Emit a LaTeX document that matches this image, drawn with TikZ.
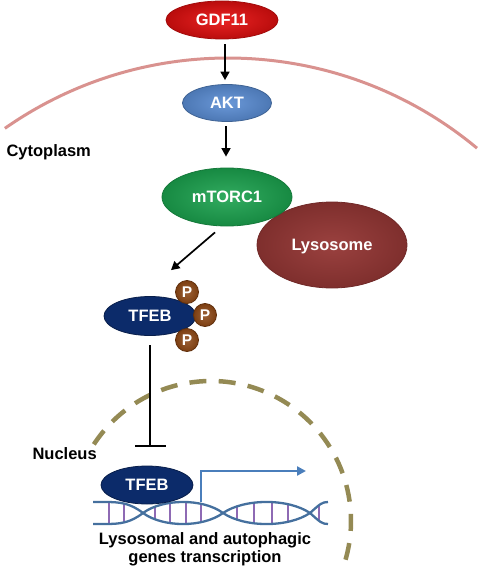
\documentclass[tikz,border=0pt]{standalone}
\usepackage{fontspec}
\setmainfont{Liberation Sans}
\usetikzlibrary{shapes.geometric,arrows.meta,calc}
\definecolor{gdfred}{HTML}{E81010}
\definecolor{aktblue}{HTML}{5A8DD4}
\definecolor{mtgreen}{HTML}{1BA24E}
\definecolor{lysred}{HTML}{953735}
\definecolor{tfebblue}{HTML}{0C2B6A}
\definecolor{pbrown}{HTML}{8A4513}
\definecolor{membrane}{HTML}{D9928F}
\definecolor{nucdash}{HTML}{948A54}
\definecolor{dnablue}{HTML}{45709E}
\definecolor{rung}{HTML}{8E6AB4}
\definecolor{txblue}{HTML}{4A7EBB}
\begin{document}
\begin{tikzpicture}[x=1pt,y=-1pt,
  lbl/.style={font=\fontsize{16.5}{18}\selectfont\bfseries},
  blob/.style={ellipse, inner sep=0pt, text=white, text depth=0pt,
    font=\fontsize{16.5}{18}\selectfont\bfseries, line width=0.8pt},
  phos/.style={circle, inner sep=0pt, minimum size=23pt, text=white,
    shade, inner color=pbrown!85!white, outer color=pbrown!90!black,
    draw=pbrown!70!black, line width=0.8pt, text depth=0pt,
    font=\fontsize{15.5}{16}\selectfont\bfseries},
  arr/.style={line width=1.7pt, -{Triangle[length=8.5pt,width=9pt]}},
  inhib/.style={line width=1.7pt, -{Bar[width=31pt]}},
  txarr/.style={draw=txblue, line width=2.4pt, -{Triangle[length=9pt,width=9pt]}},
  strand/.style={draw=dnablue, line width=2.3pt},
  rungline/.style={draw=rung, line width=2.2pt}]
\useasboundingbox (0,0) rectangle (480,586);

% cell membrane
\coordinate (mc) at (228,447);
\draw[membrane, line width=3pt] (mc) ++(-125:389) arc[start angle=-125, end angle=-50.2, radius=389];

% nuclear envelope
\coordinate (nc) at (211,521);
\draw[nucdash, line width=4.5pt, dash pattern=on 17pt off 12.3pt] (nc) ++(-146.8:140) arc[start angle=-146.8, end angle=17.4, radius=140];

% labels
\node[lbl, anchor=base west] (cyto) at (3,156) {Cytoplasm};
\node[lbl, anchor=base west] (nuc) at (29,459) {Nucleus};
\node[lbl, align=center, anchor=base] (genes) at (205,562.5) {Lysosomal and autophagic\\genes transcription};

% nodes
\node[blob, minimum width=112pt, minimum height=38pt, shade, inner color=gdfred!92!white, outer color=gdfred!80!black, draw=gdfred!70!black] (gdf) at (222,20) {GDF11};
\node[blob, minimum width=89pt, minimum height=37pt, shade, inner color=aktblue!90!white, outer color=aktblue!85!black, draw=aktblue!70!black] (akt) at (227,103) {AKT};
\node[blob, minimum width=150pt, minimum height=86pt, shade, inner color=lysred!95!white, outer color=lysred!85!black, draw=lysred!75!black] (lyso) at (332,245) {Lysosome};
\node[blob, minimum width=130pt, minimum height=58pt, shade, inner color=mtgreen!90!white, outer color=mtgreen!85!black, draw=mtgreen!75!black] (mtorc) at (227,197) {mTORC1};
\node[blob, minimum width=92pt, minimum height=39pt, fill=tfebblue, draw=tfebblue!70!black] (tfebA) at (150,316) {TFEB};
\node[phos] (p1) at (187,292) {P};
\node[phos] (p2) at (205,315) {P};
\node[phos] (p3) at (187,340) {P};

% DNA
\begin{scope}
\clip (93,502) -- (105,502) .. controls (120,502) and (130,503) .. (143,513)
  .. controls (163,498.3) and (203,498.3) .. (223,513)
  .. controls (244.75,498.3) and (288.25,498.3) .. (310,513)
  .. controls (320,504) and (322,502) .. (328,502)
  -- (328,524) .. controls (322,524) and (320,522) .. (310,513)
  .. controls (288.25,527.7) and (244.75,527.7) .. (223,513)
  .. controls (203,527.7) and (163,527.7) .. (143,513)
  .. controls (130,523) and (120,524) .. (105,524) -- (93,524) -- cycle;
\foreach \x in {109,124,155,170,186,201,237,254,272,288,319}
  \draw[rungline] (\x,495) -- (\x,531);
\end{scope}
\draw[strand] (93,502) -- (105,502) .. controls (120,502) and (130,503) .. (143,513)
  .. controls (163,527.7) and (203,527.7) .. (223,513)
  .. controls (244.75,498.3) and (288.25,498.3) .. (310,513)
  .. controls (320,522) and (322,524) .. (328,524);
\draw[strand] (93,524) -- (105,524) .. controls (120,524) and (130,523) .. (143,513)
  .. controls (163,498.3) and (203,498.3) .. (223,513)
  .. controls (244.75,527.7) and (288.25,527.7) .. (310,513)
  .. controls (320,504) and (322,502) .. (328,502);

\node[blob, minimum width=92pt, minimum height=38pt, fill=tfebblue, draw=tfebblue!70!black] (tfebB) at (147,485) {TFEB};

% transcription arrow
\coordinate (tss) at (201,502);
\coordinate (tssend) at (306,471);
\draw[txarr] (tss) |- (tssend);

% connectors
\draw[arr, shorten <=5pt, shorten >=4pt] (gdf.south -| 225,0) -- (akt.north -| 225,0);
\draw[arr, shorten <=4.5pt, shorten >=11pt] (akt.south -| 226,0) -- (mtorc.north -| 226,0);
\draw[arr] ([xshift=-12pt,yshift=-6pt]mtorc.south) -- ([xshift=21pt,yshift=26pt]tfebA.north);
\draw[inhib, shorten <=9.5pt, shorten >=19pt] (tfebA.south) -- (tfebA.south |- tfebB.north);
\end{tikzpicture}
\end{document}
